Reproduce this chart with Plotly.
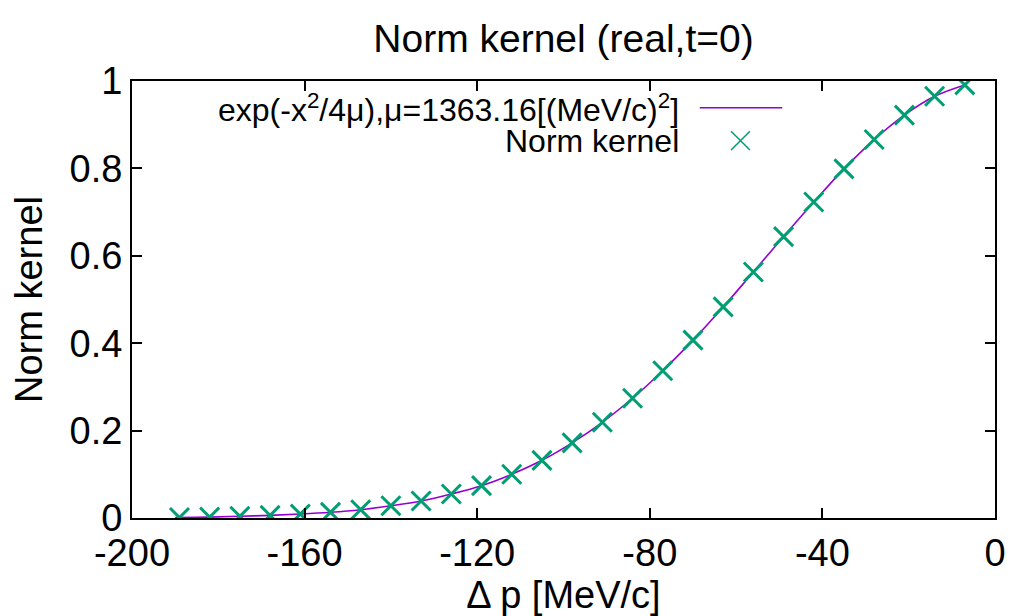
import plotly.graph_objects as go

# Data
dp = [-189, -182, -175, -168, -161, -154, -147, -140, -133, -126, -119, -112, -105,
      -98, -91, -84, -77, -70, -63, -56, -49, -42, -35, -28, -21, -14, -7]
norm_kernel = [0.001, 0.002, 0.004, 0.006, 0.009, 0.013, 0.019, 0.028, 0.039, 0.055,
               0.074, 0.100, 0.132, 0.172, 0.219, 0.274, 0.337, 0.407, 0.483, 0.563,
               0.644, 0.723, 0.799, 0.866, 0.922, 0.965, 0.991]

# Fit curve values
fit_x = [-190, -182, -175, -168, -161, -154, -147, -140, -133, -126, -119, -112, -105,
         -98, -91, -84, -77, -70, -63, -56, -49, -42, -35, -28, -21, -14, -7]
fit_y = [0.001, 0.002, 0.004, 0.006, 0.009, 0.013, 0.019, 0.028, 0.039, 0.055,
         0.074, 0.100, 0.132, 0.172, 0.219, 0.274, 0.337, 0.407, 0.483, 0.563,
         0.644, 0.723, 0.799, 0.866, 0.922, 0.965, 0.991]

x_tickvals = [-200, -160, -120, -80, -40, 0]
x_ticktext = ["-200", "-160", "-120", "-80", "-40", "0"]
y_tickvals = [0, 0.2, 0.4, 0.6, 0.8, 1]
y_ticktext = ["0", "0.2", "0.4", "0.6", "0.8", "1"]

title_text = "Norm kernel (real,t=0)"
fit_label = "exp(-x<sup>2</sup>/4μ),μ=1363.16[(MeV/c)<sup>2</sup>]"
data_label = "Norm kernel"

FONT = "Liberation Sans, Arial, sans-serif"
LINE_COLOR = "#9400d3"
PT_COLOR = "#009e73"

# The page body has an 8px default margin; work in window pixels and convert.
OFF = 8
WIN_W, WIN_H = 1018, 616
W, H = WIN_W - OFF, WIN_H - OFF
# plot area in window pixels: x 132..1000, y 81..521
L = 132 - OFF
T = 81 - OFF
R = WIN_W - 1000
B = WIN_H - 521
pw, ph = W - L - R, H - T - B

def px(xp):
    return (xp - 132) / pw

def py(yp):
    return (521 - yp) / ph

fig = go.Figure()
fig.add_trace(go.Scatter(x=fit_x, y=fit_y, mode="lines", line=dict(color=LINE_COLOR, width=1.6, shape="spline"),
                         name=fit_label, showlegend=False, hoverinfo="skip"))
fig.add_trace(go.Scatter(x=dp, y=norm_kernel, mode="markers",
                         marker=dict(symbol="x-thin", size=19, line=dict(color=PT_COLOR, width=3), color=PT_COLOR),
                         name=data_label, showlegend=False))

# Legend (gnuplot-style: text left, sample right)
ly1, ly2 = py(108), py(141)
fig.add_shape(type="line", xref="paper", yref="paper", x0=px(703), x1=px(786), y0=ly1, y1=ly1,
              line=dict(color=LINE_COLOR, width=1.6))
cx, cy, hs = px(744), ly2, 9.5
fig.add_shape(type="line", xref="paper", yref="paper", x0=cx - hs / pw, x1=cx + hs / pw,
              y0=cy - hs / ph, y1=cy + hs / ph, line=dict(color=PT_COLOR, width=1.5))
fig.add_shape(type="line", xref="paper", yref="paper", x0=cx - hs / pw, x1=cx + hs / pw,
              y0=cy + hs / ph, y1=cy - hs / ph, line=dict(color=PT_COLOR, width=1.5))
fig.add_annotation(xref="paper", yref="paper", x=px(684), y=ly1, text=fit_label, showarrow=False,
                   xanchor="right", yanchor="middle", font=dict(family=FONT, size=32, color="black"))
fig.add_annotation(xref="paper", yref="paper", x=px(684), y=ly2, text=data_label, showarrow=False,
                   xanchor="right", yanchor="middle", font=dict(family=FONT, size=32, color="black"))

axis_common = dict(showline=True, linecolor="black", linewidth=2, mirror="ticks", ticks="inside",
                   ticklen=10, tickwidth=1.5, tickcolor="black", showgrid=False, zeroline=False,
                   tickfont=dict(family=FONT, size=38, color="black"))

fig.update_layout(
    width=W, height=H,
    margin=dict(l=L, r=R, t=T, b=B),
    paper_bgcolor="white", plot_bgcolor="white",
    title=dict(text=title_text, x=px(566), xref="paper", xanchor="center", y=1 - (38 - OFF) / H, yref="container",
               yanchor="middle", font=dict(family=FONT, size=39, color="black")),
    xaxis=dict(range=[-200, 0], tickvals=x_tickvals, ticktext=x_ticktext,
               title=dict(text="Δ p [MeV/c]", font=dict(family=FONT, size=38, color="black"), standoff=4),
               **axis_common),
    yaxis=dict(range=[0, 1], tickvals=y_tickvals, ticktext=y_ticktext,
               title=dict(text="Norm kernel", font=dict(family=FONT, size=38, color="black"), standoff=20),
               **axis_common),
    showlegend=False,
)

fig.write_html("out.html")
